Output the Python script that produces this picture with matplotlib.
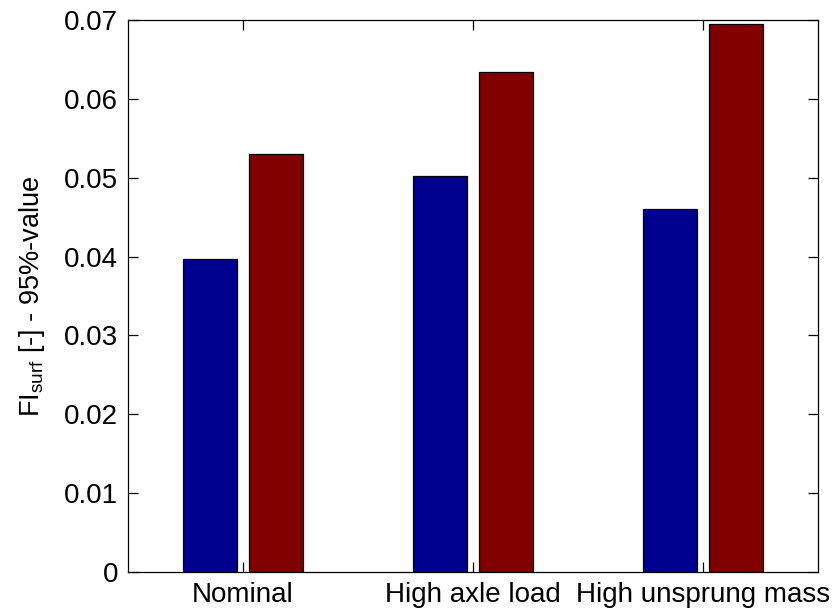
import numpy as np
import matplotlib
matplotlib.use('Agg')
import matplotlib.pyplot as plt

# ===== Data =====
categories = ['Nominal', 'High axle load', 'High unsprung mass']
fi_blue = [0.0397, 0.0502, 0.0460]
fi_red = [0.0530, 0.0634, 0.0695]

plt.rcParams['font.family'] = ['Liberation Sans', 'DejaVu Sans']
plt.rcParams['mathtext.fontset'] = 'custom'
plt.rcParams['mathtext.rm'] = 'Liberation Sans'
plt.rcParams['mathtext.it'] = 'Liberation Sans'

fig = plt.figure(figsize=(8.35, 6.10), dpi=100)
ax = fig.add_axes([128/835, 1 - 572/610, 690/835, 552/610])

x = np.arange(1, len(categories) + 1)
w = 0.232
ax.bar(x - 0.143, fi_blue, width=w, color='#00008f', edgecolor='black', linewidth=0.9)
ax.bar(x + 0.143, fi_red, width=w, color='#800000', edgecolor='black', linewidth=0.9)

ax.set_xlim(0.5, 3.5)
ax.set_ylim(0, 0.07)
ax.set_xticks(x)
ax.set_xticklabels(categories, fontsize=20)
ax.set_yticks(np.arange(0, 0.0701, 0.01))
ax.set_yticklabels(['0'] + ['%.2f' % v for v in np.arange(0.01, 0.0701, 0.01)], fontsize=20)
ax.tick_params(direction='in', length=7, width=0.9, top=True, right=True, pad=7)
for s in ax.spines.values():
    s.set_linewidth(0.9)

ax.set_ylabel(r'FI$_{\mathrm{surf}}$ [-] - 95%-value', fontsize=19.5, labelpad=12)

fig.savefig('out.png', dpi=100)
